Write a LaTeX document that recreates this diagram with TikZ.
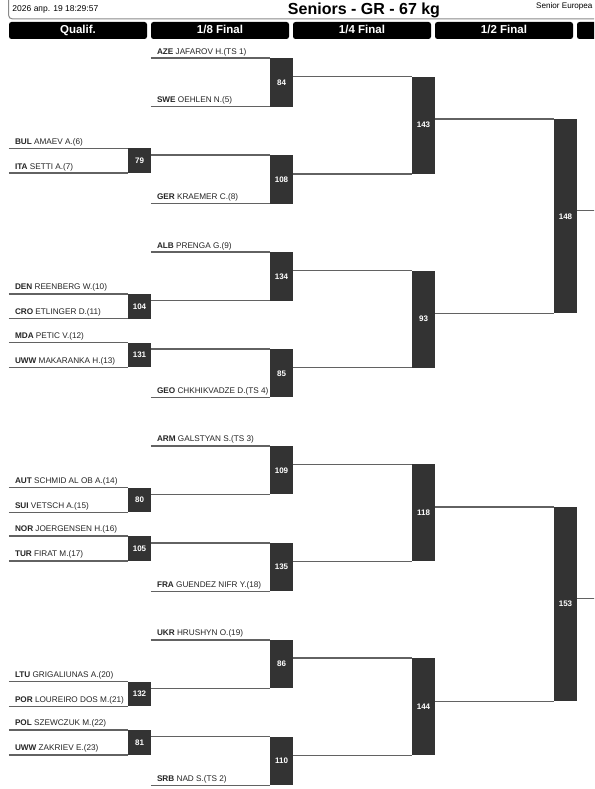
\documentclass[tikz,border=0pt]{standalone}
\usepackage{fontspec}
\setmainfont{Liberation Sans}
\usetikzlibrary{calc}
\definecolor{boxc}{HTML}{333333}
\definecolor{linec}{HTML}{626262}
\definecolor{txtc}{HTML}{262626}
\definecolor{framec}{HTML}{8A8A8A}
\newcommand\plyr[5]{%
  \path (#2) ++(-#3,0) coordinate (#1);
  \draw[ln] (#1) -- (#2);
  \node[lab] (#1t) at ([xshift=6pt,yshift=4pt]#1) {\textbf{#4} #5};}
\begin{document}
\begin{tikzpicture}[x=1pt,y=-1pt,
  ln/.style={draw=linec,line width=1.4pt},
  mbox/.style={rectangle,fill=boxc,inner sep=0pt,minimum width=23pt,text=white,font=\bfseries\fontsize{8}{9}\selectfont},
  lab/.style={anchor=base west,inner sep=0pt,text=txtc,font=\fontsize{8.2}{9}\selectfont},
  colhead/.style={rectangle,fill=black,rounded corners=2.5pt,minimum width=138pt,minimum height=17pt,inner sep=0pt,text height=8.2pt,text depth=2.3pt,text=white,font=\bfseries\fontsize{11.5}{12}\selectfont}]
\useasboundingbox (0,0) rectangle (594,789);
\clip (0,0) rectangle (594,789);
\fill[white] (0,0) rectangle (594,789);

% header
\draw[draw=framec,line width=1pt,rounded corners=4pt] (8.5,-10) -- (8.5,19) -- (720,19);
\node[anchor=base west,inner sep=0pt,text=black,font=\fontsize{8.5}{10}\selectfont] (date) at (12.3,12) {2026 апр. 19 18:29:57};
\node[anchor=base,inner sep=0pt,text=black,font=\bfseries\fontsize{16}{18}\selectfont] (title) at (364,14.5) {Seniors - GR - 67 kg};
\node[anchor=base west,inner sep=0pt,text=black,font=\fontsize{8.1}{9}\selectfont] (event) at (536,8.8) {Senior Europea};

\node[colhead] (h1) at (78,30.5) {Qualif.};
\node[colhead] (h2) at (220,30.5) {1/8 Final};
\node[colhead] (h3) at (362,30.5) {1/4 Final};
\node[colhead] (h4) at (504,30.5) {1/2 Final};
\node[colhead] (h5) at (646,30.5) {};

% qualification boxes
\node[mbox,minimum height=24.5pt] (q79)  at (139.5,160.65) {79};
\node[mbox,minimum height=24.5pt] (q104) at (139.5,306.25) {104};
\node[mbox,minimum height=24.5pt] (q131) at (139.5,354.95) {131};
\node[mbox,minimum height=24.5pt] (q80)  at (139.5,500.05) {80};
\node[mbox,minimum height=24.5pt] (q105) at (139.5,548.35) {105};
\node[mbox,minimum height=24.5pt] (q132) at (139.5,693.95) {132};
\node[mbox,minimum height=24.5pt] (q81)  at (139.5,742.35) {81};

% 1/8 boxes
\node[mbox,minimum height=48.3pt] (m84)  at (281.5,82.45) {84};
\node[mbox,minimum height=48.3pt] (m108) at (281.5,179.4) {108};
\node[mbox,minimum height=48.3pt] (m134) at (281.5,276.35) {134};
\node[mbox,minimum height=48.3pt] (m85)  at (281.5,373.3) {85};
\node[mbox,minimum height=48.3pt] (m109) at (281.5,470.25) {109};
\node[mbox,minimum height=48.3pt] (m135) at (281.5,567.2) {135};
\node[mbox,minimum height=48.3pt] (m86)  at (281.5,664.15) {86};
\node[mbox,minimum height=48.3pt] (m110) at (281.5,761.1) {110};

% 1/4 boxes
\node[mbox,minimum height=96.95pt] (m143) at (423.5,125.15) {143};
\node[mbox,minimum height=96.95pt] (m93)  at (423.5,319.05) {93};
\node[mbox,minimum height=96.95pt] (m118) at (423.5,512.95) {118};
\node[mbox,minimum height=96.95pt] (m144) at (423.5,706.85) {144};

% 1/2 boxes
\node[mbox,minimum height=193.9pt] (m148) at (565.5,216.25) {148};
\node[mbox,minimum height=193.9pt] (m153) at (565.5,604.05) {153};

% qualification entrants
\plyr{p6}{q79.north west}{119}{BUL}{AMAEV A.(6)}
\plyr{p7}{q79.south west}{119}{ITA}{SETTI A.(7)}
\plyr{p10}{q104.north west}{119}{DEN}{REENBERG W.(10)}
\plyr{p11}{q104.south west}{119}{CRO}{ETLINGER D.(11)}
\plyr{p12}{q131.north west}{119}{MDA}{PETIC V.(12)}
\plyr{p13}{q131.south west}{119}{UWW}{MAKARANKA H.(13)}
\plyr{p14}{q80.north west}{119}{AUT}{SCHMID AL OB A.(14)}
\plyr{p15}{q80.south west}{119}{SUI}{VETSCH A.(15)}
\plyr{p16}{q105.north west}{119}{NOR}{JOERGENSEN H.(16)}
\plyr{p17}{q105.south west}{119}{TUR}{FIRAT M.(17)}
\plyr{p20}{q132.north west}{119}{LTU}{GRIGALIUNAS A.(20)}
\plyr{p21}{q132.south west}{119}{POR}{LOUREIRO DOS M.(21)}
\plyr{p22}{q81.north west}{119}{POL}{SZEWCZUK M.(22)}
\plyr{p23}{q81.south west}{119}{UWW}{ZAKRIEV E.(23)}

% 1/8 entrants
\plyr{p1}{m84.north west}{119}{AZE}{JAFAROV H.(TS 1)}
\plyr{p5}{m84.south west}{119}{SWE}{OEHLEN N.(5)}
\plyr{p8}{m108.south west}{119}{GER}{KRAEMER C.(8)}
\plyr{p9}{m134.north west}{119}{ALB}{PRENGA G.(9)}
\plyr{p4}{m85.south west}{119}{GEO}{CHKHIKVADZE D.(TS 4)}
\plyr{p3}{m109.north west}{119}{ARM}{GALSTYAN S.(TS 3)}
\plyr{p18}{m135.south west}{119}{FRA}{GUENDEZ NIFR Y.(18)}
\plyr{p19}{m86.north west}{119}{UKR}{HRUSHYN O.(19)}
\plyr{p2}{m110.south west}{119}{SRB}{NAD S.(TS 2)}

% qualification winners into 1/8
\draw[ln] (q79.east |- m108.north) -- (m108.north west);
\draw[ln] (q104.east |- m134.south) -- (m134.south west);
\draw[ln] (q131.east |- m85.north) -- (m85.north west);
\draw[ln] (q80.east |- m109.south) -- (m109.south west);
\draw[ln] (q105.east |- m135.north) -- (m135.north west);
\draw[ln] (q132.east |- m86.south) -- (m86.south west);
\draw[ln] (q81.east |- m110.north) -- (m110.north west);

% 1/8 into 1/4
\draw[ln] (m84.east |- m143.north) -- (m143.north west);
\draw[ln] (m108.east |- m143.south) -- (m143.south west);
\draw[ln] (m134.east |- m93.north) -- (m93.north west);
\draw[ln] (m85.east |- m93.south) -- (m93.south west);
\draw[ln] (m109.east |- m118.north) -- (m118.north west);
\draw[ln] (m135.east |- m118.south) -- (m118.south west);
\draw[ln] (m86.east |- m144.north) -- (m144.north west);
\draw[ln] (m110.east |- m144.south) -- (m144.south west);

% 1/4 into 1/2
\draw[ln] (m143.east |- m148.north) -- (m148.north west);
\draw[ln] (m93.east |- m148.south) -- (m148.south west);
\draw[ln] (m118.east |- m153.north) -- (m153.north west);
\draw[ln] (m144.east |- m153.south) -- (m153.south west);

% 1/2 into final
\coordinate (f1) at (600,210.7);
\coordinate (f2) at (600,598.4);
\draw[ln] (m148.east |- f1) -- (f1);
\draw[ln] (m153.east |- f2) -- (f2);
\end{tikzpicture}
\end{document}
